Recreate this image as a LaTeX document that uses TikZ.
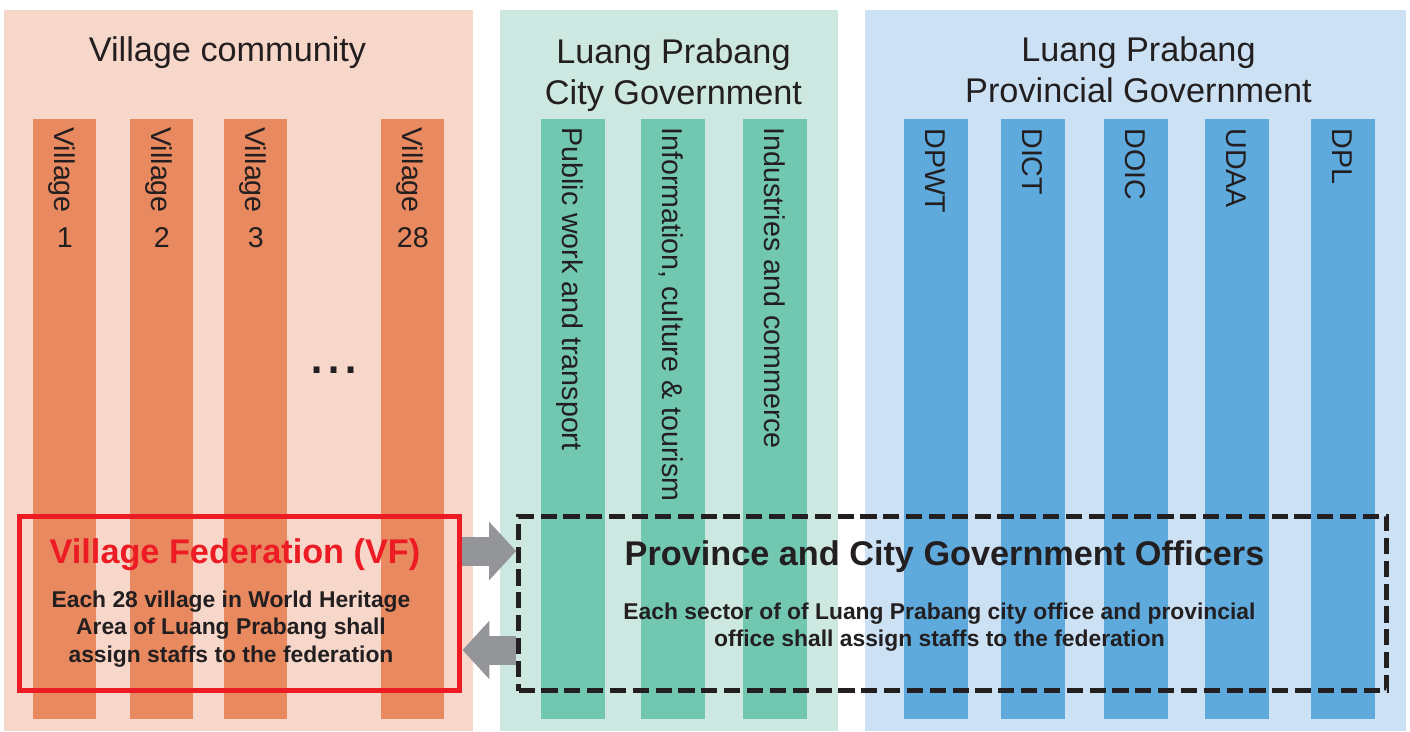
\documentclass[tikz,border=0pt]{standalone}
\usepackage{fontspec}
\setmainfont{Liberation Sans}
\usepackage{xcolor}
\usepackage{tikz}
\usetikzlibrary{positioning,arrows.meta,calc}
\definecolor{vilbg}{RGB}{247,215,202}
\definecolor{vilbar}{RGB}{233,137,96}
\definecolor{citybg}{RGB}{205,232,224}
\definecolor{citybar}{RGB}{114,199,176}
\definecolor{provbg}{RGB}{204,226,244}
\definecolor{provbar}{RGB}{94,170,221}
\definecolor{fedred}{RGB}{237,28,36}
\definecolor{arrowgray}{RGB}{147,149,152}
\definecolor{txtdark}{RGB}{35,31,32}

\begin{document}
\begin{tikzpicture}[
  x=0.02cm, y=-0.02cm,
  panel/.style={rectangle, anchor=north west, inner sep=0pt, minimum height=14.42cm},
  bar/.style={rectangle, anchor=north west, inner sep=0pt, minimum width=1.28cm, minimum height=12cm},
  vbar/.style={bar, fill=vilbar, minimum width=1.26cm},
  cbar/.style={bar, fill=citybar},
  pbar/.style={bar, fill=provbar},
  title/.style={inner sep=0pt, align=center, text=txtdark, font=\fontsize{19.5}{23.8}\selectfont},
  barlabel/.style={rotate=-90, anchor=base west, inner sep=0pt, text=txtdark, font=\fontsize{16.3}{19}\selectfont},
  num/.style={anchor=base, inner sep=0pt, text=txtdark, font=\fontsize{16.3}{19}\selectfont},
  headline/.style={anchor=base, inner sep=0pt, font=\bfseries\fontsize{19.5}{24}\selectfont},
  note/.style={anchor=north, inner sep=0pt, align=center, text=txtdark, font=\bfseries\fontsize{13}{15.6}\selectfont},
  fedbox/.style={rectangle, draw=fedred, line width=2.83pt, minimum width=8.82cm, minimum height=3.49cm},
  offbox/.style={rectangle, draw=txtdark, line width=2.83pt, dash pattern=on 9.2pt off 3.8pt, minimum width=17.37cm, minimum height=3.49cm},
  fatarrow/.style={draw=arrowgray, line width=0.58cm, -{Triangle[width=1.14cm, length=0.54cm]}}
]

\path[use as bounding box, fill=white] (0,0) rectangle (1410,731);

% Panels
\node[panel, fill=vilbg, minimum width=9.38cm] (vc) at (4,10) {};
\node[panel, fill=citybg, minimum width=6.76cm] (city) at (500,10) {};
\node[panel, fill=provbg, minimum width=10.82cm] (prov) at (865,10) {};

\node[title, anchor=base] (vctitle) at (227.5,61) {Village community};
\node[title, anchor=north] (citytitle) at (673.5,38) {Luang Prabang\\City Government};
\node[title, anchor=north] (provtitle) at (1138.5,36) {Luang Prabang\\Provincial Government};

% Bars
\node[vbar] (v1) at (33,119) {};
\node[vbar] (v2) at (130,119) {};
\node[vbar] (v3) at (224,119) {};
\node[vbar] (v28) at (381,119) {};
\node[cbar] (c1) at (541,119) {};
\node[cbar] (c2) at (641,119) {};
\node[cbar] (c3) at (743,119) {};
\node[pbar] (p1) at (904,119) {};
\node[pbar] (p2) at (1001,119) {};
\node[pbar] (p3) at (1104,119) {};
\node[pbar] (p4) at (1205,119) {};
\node[pbar] (p5) at (1311,119) {};

% Bar labels
\node[barlabel] (v1lab) at ($(v1.north west)+(21,8)$) {Village};
\node[barlabel] (v2lab) at ($(v2.north west)+(21,8)$) {Village};
\node[barlabel] (v3lab) at ($(v3.north west)+(21,8)$) {Village};
\node[barlabel] (v28lab) at ($(v28.north west)+(21,8)$) {Village};
\node[num] (v1num) at ($(v1.north)+(0,128)$) {1};
\node[num] (v2num) at ($(v2.north)+(0,128)$) {2};
\node[num] (v3num) at ($(v3.north)+(0,128)$) {3};
\node[num] (v28num) at ($(v28.north)+(0,128)$) {28};
\node[anchor=base, inner sep=0pt, text=txtdark, font=\fontsize{35}{40}\selectfont] (dots) at (334,373) {...};

\node[barlabel] (c1lab) at ($(c1.north west)+(21,8)$) {Public work and transport};
\node[barlabel] (c2lab) at ($(c2.north west)+(21,8)$) {Information, culture \& tourism};
\node[barlabel] (c3lab) at ($(c3.north west)+(21,8)$) {Industries and commerce};

\node[barlabel] (p1lab) at ($(p1.north west)+(21,9)$) {DPWT};
\node[barlabel] (p2lab) at ($(p2.north west)+(21,9)$) {DICT};
\node[barlabel] (p3lab) at ($(p3.north west)+(21,9)$) {DOIC};
\node[barlabel] (p4lab) at ($(p4.north west)+(21,9)$) {UDAA};
\node[barlabel] (p5lab) at ($(p5.north west)+(21,9)$) {DPL};

% Boxes
\node[fedbox] (vf) at (239.5,603.5) {};
\node[offbox] (pc) at (952.75,603.5) {};

\node[headline, text=fedred] (vfhead) at (235,563) {Village Federation (VF)};
\node[note] (vfnote) at (231,590.5) {Each 28 village in World Heritage\\Area of Luang Prabang shall\\assign staffs to the federation};
\node[headline, text=txtdark] (pchead) at (944.5,565) {Province and City Government Officers};
\node[note] (pcnote) at (939.5,602.5) {Each sector of of Luang Prabang city office and provincial\\office shall assign staffs to the federation};

% Arrows
\draw[fatarrow] ([yshift=1.05cm]vf.east) -- ([yshift=1.05cm]pc.west);
\draw[fatarrow] ([yshift=-0.93cm]pc.west) -- ([yshift=-0.93cm]vf.east);

\end{tikzpicture}
\end{document}
